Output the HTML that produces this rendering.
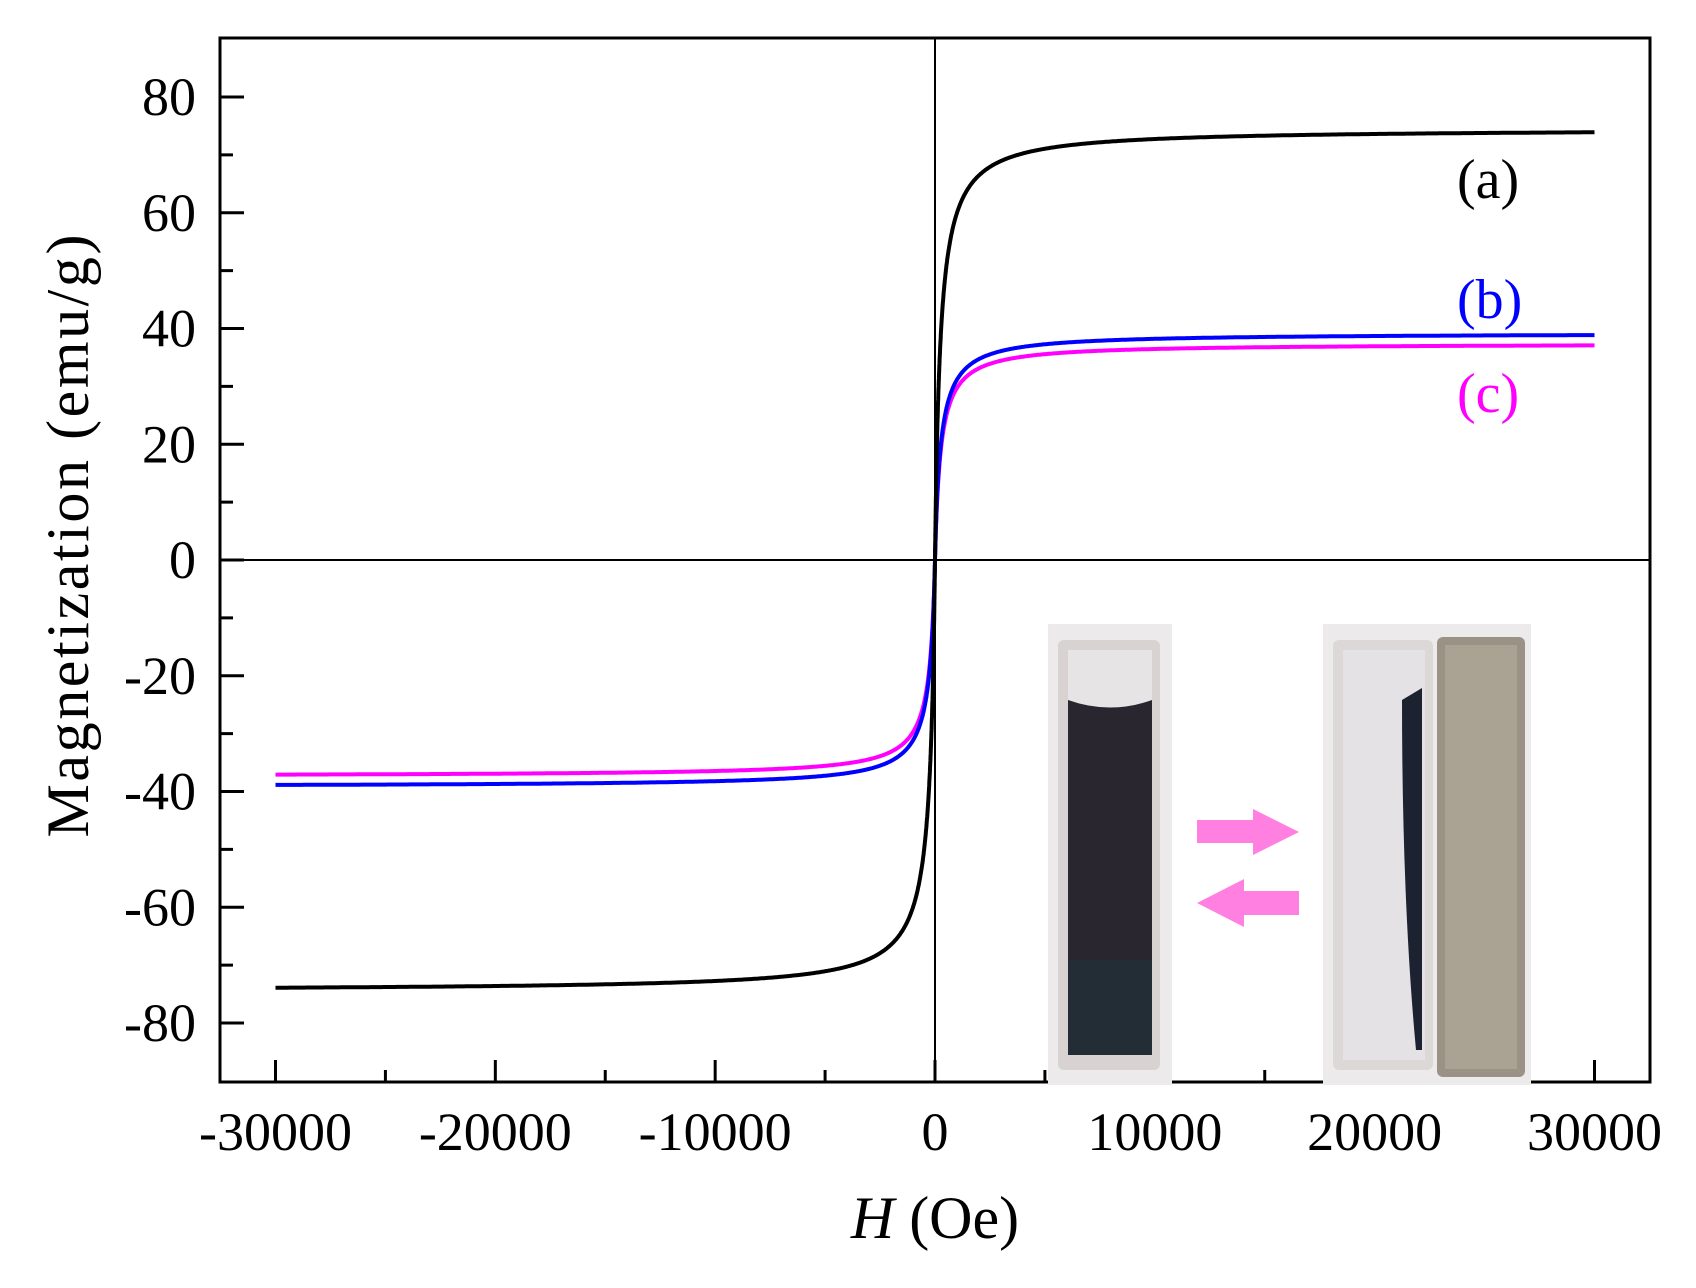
<!DOCTYPE html>
<html><head><meta charset="utf-8"><style>
html,body{margin:0;padding:0;background:#fff;}
svg{display:block;font-family:"Liberation Serif",serif;}
</style></head><body>
<svg id="s" width="1696" height="1288" viewBox="0 0 1696 1288" xmlns="http://www.w3.org/2000/svg">
<rect x="0" y="0" width="1696" height="1288" fill="#fff"/>
<g id="ticks" stroke="#000" stroke-width="3"></g>
<line x1="935" y1="38" x2="935" y2="1082" stroke="#000" stroke-width="2"/>
<line x1="220" y1="560" x2="1650" y2="560" stroke="#000" stroke-width="2"/>
<path id="pc" fill="none" stroke="#ff00ff" stroke-width="4"/>
<path id="pb" fill="none" stroke="#0000ff" stroke-width="4"/>
<path id="pa" fill="none" stroke="#000" stroke-width="4"/>
<rect x="220" y="38" width="1430" height="1044" fill="none" stroke="#000" stroke-width="3"/>
<g id="labels" font-size="54" fill="#000"></g>
<text x="1457" y="198" font-size="56">(a)</text>
<text x="1457" y="318" font-size="56" fill="#0000ff">(b)</text>
<text x="1457" y="412" font-size="56" fill="#ff00ff">(c)</text>
<text x="935" y="1238" font-size="60" text-anchor="middle"><tspan font-style="italic">H</tspan> (Oe)</text>
<text transform="translate(88,536) rotate(-90)" font-size="60" text-anchor="middle" textLength="603">Magnetization (emu/g)</text>
<!-- inset -->
<rect x="1048" y="624" width="124" height="461" fill="#eceaea"/>
<rect x="1058" y="640" width="102" height="430" rx="6" fill="#d8d2d2"/>
<rect x="1068" y="650" width="84" height="58" fill="#e6e4e4"/>
<path d="M1068 700 Q1110 715 1152 700 L1152 1055 L1068 1055 Z" fill="#2a2630"/>
<rect x="1068" y="960" width="84" height="95" fill="#232d36"/>
<rect x="1323" y="624" width="208" height="461" fill="#eceaea"/>
<rect x="1333" y="640" width="100" height="430" rx="6" fill="#dcd8d8"/>
<rect x="1343" y="650" width="82" height="410" fill="#e4e2e4"/>
<path d="M1402 700 L1422 688 L1422 1050 L1416 1050 Q1402 900 1402 700 Z" fill="#1c2230"/>
<rect x="1437" y="637" width="88" height="440" rx="6" fill="#9a9284"/>
<rect x="1445" y="645" width="72" height="424" fill="#aaa292"/>
<path d="M1197 820 H1253 V809 L1299 832 L1253 855 V843 H1197 Z" fill="#ff80e0"/>
<path d="M1197 903 L1244 879 V891 H1299 V915 H1244 V927 Z" fill="#ff80e0"/>
</svg>
<script>
var X=function(h){return 935+h*(1595-276)/60000;};
var Y=function(m){return 560-m*(560-1023)/-80;};
var t=document.getElementById('ticks'),L=document.getElementById('labels'),s='';
for(var v=-80;v<=80;v+=10){var y=Y(v),len=(v%20==0)?24:13;s+='<line x1="220" y1="'+y+'" x2="'+(220+len)+'" y2="'+y+'"/>';}
for(var h=-30000;h<=30000;h+=5000){var x=X(h),len=(h%10000==0)?22:12;s+='<line x1="'+x+'" y1="1082" x2="'+x+'" y2="'+(1082-len)+'"/>';}
t.innerHTML=s;s='';
for(var v=-80;v<=80;v+=20){s+='<text x="196" y="'+(Y(v)+18)+'" text-anchor="end">'+v+'</text>';}
for(var h=-30000;h<=30000;h+=10000){s+='<text x="'+X(h)+'" y="1150" text-anchor="middle">'+h+'</text>';}
L.innerHTML=s;
function path(Ms,k){var d='';for(var i=0;i<=1200;i++){var u=(i/600-1);var h=30000*Math.sign(u)*Math.pow(Math.abs(u),2.2);var m=Ms*h/(Math.abs(h)+k);d+=(i?'L':'M')+X(h).toFixed(1)+' '+Y(m).toFixed(1);}return d;}
document.getElementById('pa').setAttribute('d',path(74.5,242));
document.getElementById('pb').setAttribute('d',path(39.2,258));
document.getElementById('pc').setAttribute('d',path(37.4,258));
</script>
</body></html>
